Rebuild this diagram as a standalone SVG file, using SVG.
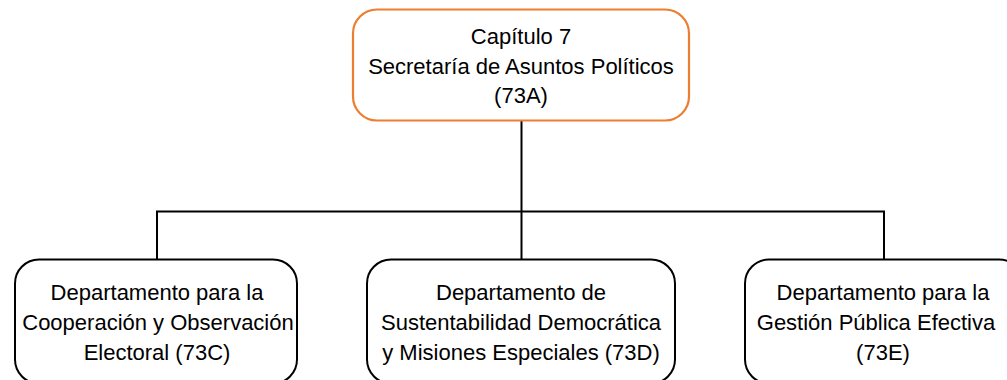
<svg xmlns="http://www.w3.org/2000/svg" width="1007" height="380" viewBox="0 0 1007 380">
<style>
.box{fill:#fff;stroke:#000;stroke-width:2}
.top{fill:#fff;stroke:#ED7D31;stroke-width:2.2}
.t{font-family:"Liberation Sans",Arial,sans-serif;font-size:22px;fill:#000;text-anchor:middle}
.c{fill:none;stroke:#000;stroke-width:2}
</style>
<rect width="1007" height="380" fill="#fff"/>
<g id="connectors">
<path class="c" d="M521.5 120 V211.5 M157 211.5 H884 M157 210.5 V259 M521.5 211.5 V259 M884 210.5 V259"/>
</g>
<g id="n73A">
<rect class="top" x="353" y="9.5" width="336" height="111" rx="24"/>
<text class="t" x="521" y="43.5">Capítulo 7</text>
<text class="t" x="521" y="73.5">Secretaría de Asuntos Políticos</text>
<text class="t" x="521" y="103">(73A)</text>
</g>
<g id="n73C">
<rect class="box" x="15" y="259.5" width="282" height="124" rx="24"/>
<text class="t" x="157" y="300">Departamento para la</text>
<text class="t" x="158" y="330">Cooperación y Observación</text>
<text class="t" x="157" y="360">Electoral (73C)</text>
</g>
<g id="n73D">
<rect class="box" x="367" y="259.5" width="308" height="124" rx="24"/>
<text class="t" x="521" y="300">Departamento de</text>
<text class="t" x="521" y="330">Sustentabilidad Democrática</text>
<text class="t" x="521" y="360">y Misiones Especiales (73D)</text>
</g>
<g id="n73E">
<rect class="box" x="745" y="259.5" width="278" height="124" rx="24"/>
<text class="t" x="883" y="300">Departamento para la</text>
<text class="t" x="876" y="330">Gestión Pública Efectiva</text>
<text class="t" x="883" y="360">(73E)</text>
</g>
</svg>
